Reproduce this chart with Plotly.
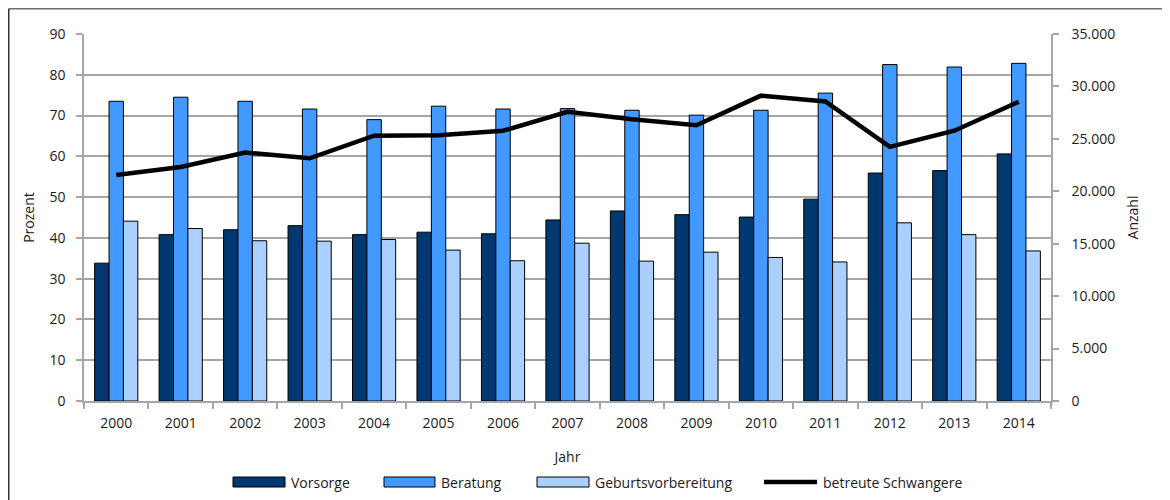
import plotly.graph_objects as go

jahre = [str(y) for y in range(2000, 2015)]
vorsorge = [33.8, 40.8, 42.0, 43.0, 40.8, 41.4, 41.0, 44.4, 46.6, 45.7, 45.1, 49.5, 55.9, 56.5, 60.6]
beratung = [73.5, 74.5, 73.5, 71.6, 69.0, 72.3, 71.6, 71.7, 71.3, 70.1, 71.3, 75.5, 82.5, 81.9, 82.8]
geburt = [44.1, 42.3, 39.3, 39.2, 39.6, 37.0, 34.4, 38.7, 34.3, 36.5, 35.2, 34.1, 43.7, 40.8, 36.8]
schwangere = [21550, 22320, 23700, 23150, 25300, 25340, 25770, 27580, 26870, 26300, 29120, 28560, 24230, 25780, 28540]

left_ticks = list(range(0, 91, 10))
right_ticks = list(range(0, 35001, 5000))

FONT = "Open Sans"
GRID = "#a6a6a6"
TXT = "#1a1a1a"
C_VOR, C_BER, C_GEB = "#00386f", "#4299ff", "#a9d0ff"

# the page body adds an 8px offset; the figure fills the rest of the window
OFF = 8
W, H = 1170 - OFF, 500 - OFF
ML, MR, MT, MB = 84 - OFF, 119, 34 - OFF, 99
PW, PH = W - ML - MR, H - MT - MB


def px(x):  # window pixel -> paper x
    return (x - OFF - ML) / PW


def py(y):  # window pixel -> paper y
    return (H - MB - (y - OFF)) / PH


fig = go.Figure()
fig.add_bar(x=jahre, y=vorsorge, name="Vorsorge",
            marker=dict(color=C_VOR, line=dict(color="black", width=1)))
fig.add_bar(x=jahre, y=beratung, name="Beratung",
            marker=dict(color=C_BER, line=dict(color="black", width=1)))
fig.add_bar(x=jahre, y=geburt, name="Geburtsvorbereitung",
            marker=dict(color=C_GEB, line=dict(color="black", width=1)))
fig.add_scatter(x=jahre, y=schwangere, name="betreute Schwangere", yaxis="y2",
                mode="lines", line=dict(color="black", width=4.5))

# legend drawn manually (wide swatches as in the reference)
legend_items = [
    ("Vorsorge", "bar", C_VOR, 233, 285),
    ("Beratung", "bar", C_BER, 384, 435),
    ("Geburtsvorbereitung", "bar", C_GEB, 537, 589),
    ("betreute Schwangere", "line", "black", 764, 817),
]
shapes = [
    dict(type="line", xref="paper", yref="paper", x0=px(OFF + 0.75), x1=px(1200), y0=py(OFF + 0.75),
         y1=py(OFF + 0.75), line=dict(color="#6e6e6e", width=1.5)),
    dict(type="line", xref="paper", yref="paper", x0=px(OFF + 0.75), x1=px(OFF + 0.75), y0=py(OFF + 0.75),
         y1=py(520), line=dict(color="#333333", width=1.5)),
]
annotations = []
LY = 482
for name, kind, col, x0, x1 in legend_items:
    if kind == "bar":
        shapes.append(dict(type="rect", xref="paper", yref="paper", x0=px(x0), x1=px(x1),
                           y0=py(LY + 5), y1=py(LY - 5), fillcolor=col,
                           line=dict(color="black", width=1)))
    else:
        shapes.append(dict(type="line", xref="paper", yref="paper", x0=px(x0), x1=px(x1),
                           y0=py(LY), y1=py(LY), line=dict(color=col, width=4.5)))
    annotations.append(dict(text=name, xref="paper", yref="paper", x=px(x1 + 4), y=py(LY),
                            xanchor="left", yanchor="middle", showarrow=False,
                            font=dict(size=14, color=TXT)))

TF = dict(size=14, color=TXT, family=FONT)

fig.update_layout(
    width=W, height=H,
    margin=dict(l=ML, r=MR, t=MT, b=MB),
    paper_bgcolor="white", plot_bgcolor="white",
    font=dict(family=FONT, size=14, color=TXT),
    separators=",.",
    barmode="group", bargap=0.33, bargroupgap=0,
    showlegend=False,
    xaxis=dict(type="category", showline=True, linecolor=GRID, linewidth=1.5,
               ticks="outside", tickson="boundaries", tickcolor=GRID, ticklen=6, tickwidth=1.5,
               ticklabelstandoff=8, showgrid=False, automargin=False, tickfont=TF,
               title=dict(text="Jahr", standoff=22, font=TF)),
    yaxis=dict(range=[0, 90], tickvals=left_ticks, showline=True, linecolor=GRID, linewidth=1.5,
               ticks="outside", tickcolor=GRID, ticklen=6, tickwidth=1.5, ticklabelstandoff=8,
               showgrid=True, gridcolor=GRID, gridwidth=1.5, zeroline=False, automargin=False,
               tickfont=TF, title=dict(text="Prozent", standoff=12, font=TF)),
    yaxis2=dict(range=[0, 35000], tickvals=right_ticks, tickformat=",d", overlaying="y", side="right",
                showline=True, linecolor=GRID, linewidth=1.5,
                ticks="outside", tickcolor=GRID, ticklen=6, tickwidth=1.5, ticklabelstandoff=10,
                showgrid=False, zeroline=False, automargin=False, tickfont=TF,
                title=dict(text="Anzahl", standoff=14, font=TF)),
    shapes=shapes,
    annotations=annotations,
)

fig.write_html("out.html")
